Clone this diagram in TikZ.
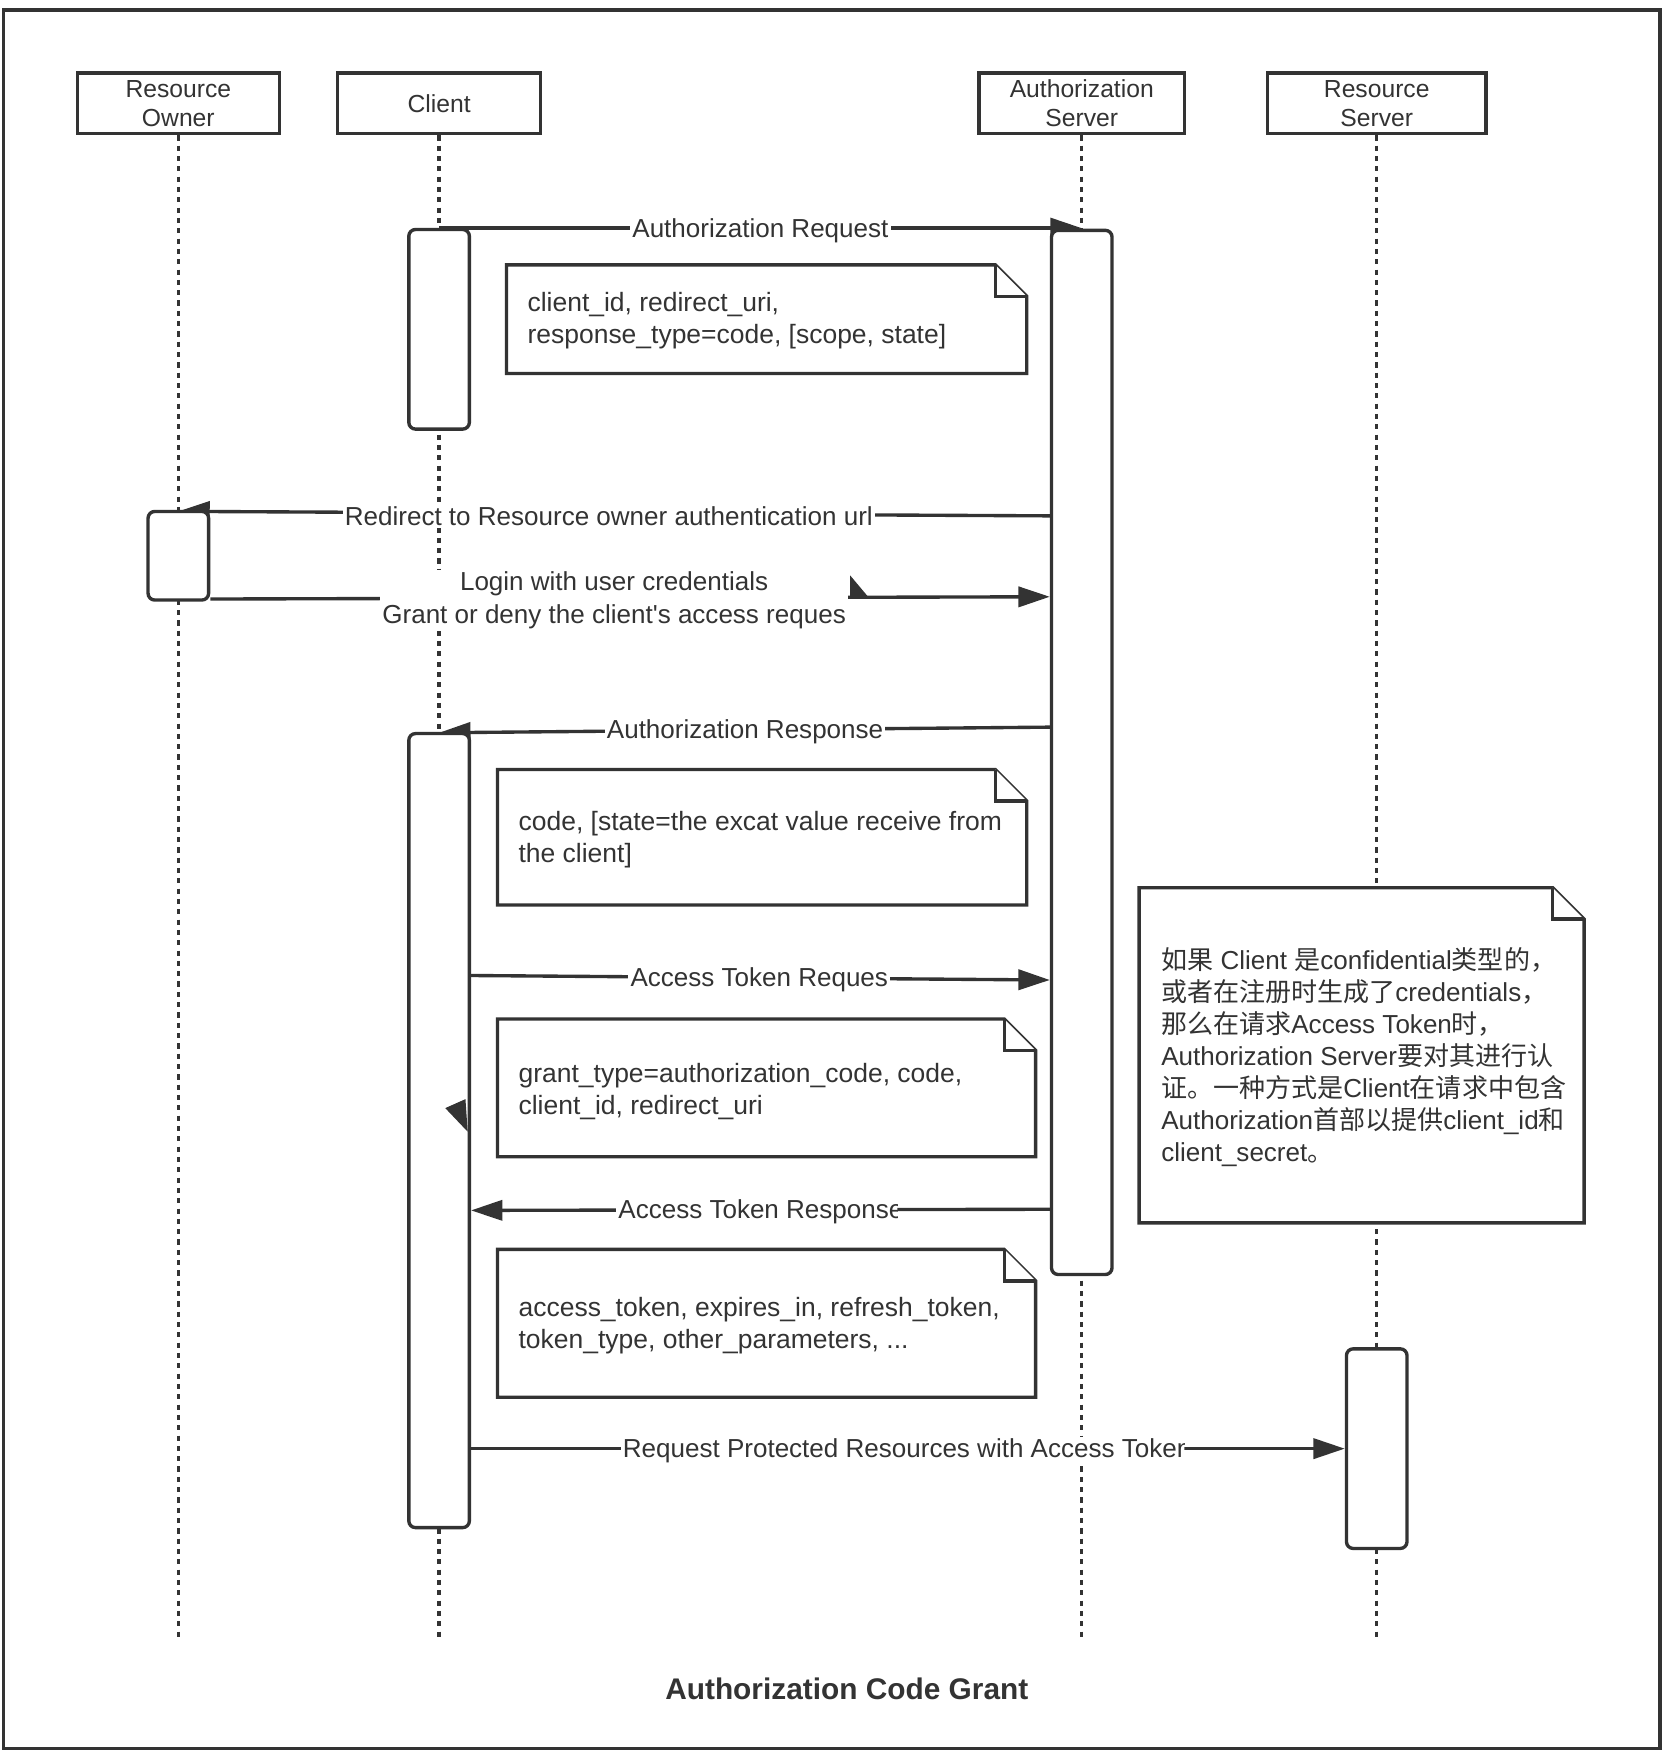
\documentclass[tikz,border=0pt]{standalone}
\usepackage{fontspec}
\setmainfont{Liberation Sans}
\newfontfamily\cjkfont{Noto Sans CJK SC}
\usetikzlibrary{arrows.meta,calc,backgrounds}
\definecolor{ink}{HTML}{333333}
\newcommand{\zhtext}[1]{{\cjkfont #1}}
\begin{document}
\begin{tikzpicture}[x=0.5pt,y=-0.501pt,
  every node/.style={text=ink},
  ln/.style={draw=ink, line width=1.5pt},
  head/.style={ln, minimum height=27pt, inner sep=0pt, align=center, font=\fontsize{11}{13}\selectfont},
  life/.style={draw=ink, line width=1.5pt, dash pattern=on 2.3pt off 2.3pt},
  actbox/.style={ln, fill=white, rounded corners=3pt, minimum width=27pt, inner sep=0pt},
  msg/.style={ln, -{Triangle[length=14pt,width=9pt]}},
  lbl/.style={fill=white, inner sep=1pt, align=center, yshift=-1pt, font=\fontsize{11.6}{14.5}\selectfont},
  notebox/.style={inner sep=0pt},
  noteline/.style={ln, fill=white, line join=miter},
  notetext/.style={anchor=west, align=left, inner sep=0pt, font=\fontsize{11.8}{14.25}\selectfont},
  zhnote/.style={anchor=west, align=left, inner sep=0pt, font=\fontsize{11.6}{14.25}\selectfont},
]
\useasboundingbox (0pt,0pt) rectangle (745pt,-785.5pt);
% frame
\draw[ink, line width=1.5pt] (3,9) rectangle (1480,1556);

% heads
\node[head, minimum width=90pt] (ro) at (159,92) {Resource\\Owner};
\node[head, minimum width=90.5pt] (cl) at (391.5,92) {Client};
\node[head, minimum width=91.5pt] (as) at (964.5,92) {Authorization\\Server};
\node[head, minimum width=97.5pt] (rs) at (1227.5,92) {Resource\\Server};

% lifeline ends
\coordinate (roend) at (159,1458);
\coordinate (clend) at (391.5,1458);
\coordinate (asend) at (964.5,1458);
\coordinate (rsend) at (1227.5,1458);

% activations
\node[actbox, minimum height=89pt] (ca1) at (391.5,293) {};
\node[actbox, minimum height=465.5pt] (asa) at (964.5,669.5) {};
\node[actbox, minimum height=39.5pt] (roa) at (159,494.5) {};
\node[actbox, minimum height=354pt] (ca2) at (391.5,1006) {};
\node[actbox, minimum height=89pt] (rsa) at (1227.5,1289) {};

% message rows
\coordinate (r1) at (0,203);
\coordinate (r2a) at (0,459); \coordinate (r2b) at (0,455);
\coordinate (r3a) at (0,533); \coordinate (r3b) at (0,531);
\coordinate (r4a) at (0,647); \coordinate (r4b) at (0,652);
\coordinate (r5a) at (0,868); \coordinate (r5b) at (0,872);
\coordinate (r6a) at (0,1076); \coordinate (r6b) at (0,1077);
\coordinate (r7) at (0,1289);

\begin{pgfonlayer}{background}
\draw[life] (ro.south) -- (roend);
\draw[life] (cl.south) -- (clend);
\draw[life] (as.south) -- (asend);
\draw[life] (rs.south) -- (rsend);

\draw[msg] (ca1.north |- r1) -- node[lbl, pos=0.5] (l1) {Authorization Request} (asa.north |- r1);
\draw[msg] (asa.west |- r2a) -- node[lbl, pos=0.506] (l2) {Redirect to Resource owner authentication url} (roa.north |- r2b);
\draw[msg] (roa.east |- r3a) -- node[lbl, pos=0.481] (l3) {Login with user credentials\\Grant or deny the client\textquotesingle s access reques} (asa.west |- r3b);
\draw[msg] (asa.west |- r4a) -- node[lbl, pos=0.499] (l4) {Authorization Response} (ca2.north |- r4b);
\draw[msg] (ca2.east |- r5a) -- node[lbl, pos=0.498] (l5) {Access Token Reques} (asa.west |- r5b);
\draw[msg] (asa.west |- r6a) -- (ca2.east |- r6b);
\begin{scope}
  \clip (540,1055) rectangle (800,1098);
  \node[lbl, anchor=west] (l6) at (549,1076.5) {Access Token Response};
\end{scope}
\draw[msg] (ca2.east |- r7) -- (rsa.west |- r7);
\begin{scope}
  \clip (540,1268) rectangle (1056,1310);
  \node[lbl, anchor=west] (l7) at (553,1289) {Request Protected Resources with Access Token};
\end{scope}
\end{pgfonlayer}

% notes
\node[notebox, minimum width=231.5pt, minimum height=48pt] (n1) at (683.5,284) {};
\draw[noteline] (n1.north west) -- ([xshift=-14pt]n1.north east) -- ([yshift=-14pt]n1.north east) -- (n1.south east) -- (n1.south west) -- cycle;
\draw[noteline] ([xshift=-14pt]n1.north east) -- ([xshift=-14pt,yshift=-14pt]n1.north east) -- ([yshift=-14pt]n1.north east);
\node[notetext] (n1t) at (470,285.5) {client\_id, redirect\_uri,\\response\_type=code, [scope, state]};

\node[notebox, minimum width=235.5pt, minimum height=60pt] (n2) at (679.5,745) {};
\draw[noteline] (n2.north west) -- ([xshift=-14pt]n2.north east) -- ([yshift=-14pt]n2.north east) -- (n2.south east) -- (n2.south west) -- cycle;
\draw[noteline] ([xshift=-14pt]n2.north east) -- ([xshift=-14pt,yshift=-14pt]n2.north east) -- ([yshift=-14pt]n2.north east);
\node[notetext] (n2t) at (462,747.5) {code, [state=the excat value receive from\\the client]};

\node[notebox, minimum width=239.5pt, minimum height=61pt] (n3) at (683.5,968) {};
\draw[noteline] (n3.north west) -- ([xshift=-14pt]n3.north east) -- ([yshift=-14pt]n3.north east) -- (n3.south east) -- (n3.south west) -- cycle;
\draw[noteline] ([xshift=-14pt]n3.north east) -- ([xshift=-14pt,yshift=-14pt]n3.north east) -- ([yshift=-14pt]n3.north east);
\node[notetext] (n3t) at (462,971) {grant\_type=authorization\_code, code,\\client\_id, redirect\_uri};

\node[notebox, minimum width=239.5pt, minimum height=65.5pt] (n4) at (683.5,1177.5) {};
\draw[noteline] (n4.north west) -- ([xshift=-14pt]n4.north east) -- ([yshift=-14pt]n4.north east) -- (n4.south east) -- (n4.south west) -- cycle;
\draw[noteline] ([xshift=-14pt]n4.north east) -- ([xshift=-14pt,yshift=-14pt]n4.north east) -- ([yshift=-14pt]n4.north east);
\node[notetext] (n4t) at (462,1179.5) {access\_token, expires\_in, refresh\_token,\\token\_type, other\_parameters, ...};

\node[notebox, minimum width=198pt, minimum height=149pt] (n5) at (1214,939) {};
\draw[noteline] (n5.north west) -- ([xshift=-14pt]n5.north east) -- ([yshift=-14pt]n5.north east) -- (n5.south east) -- (n5.south west) -- cycle;
\draw[noteline] ([xshift=-14pt]n5.north east) -- ([xshift=-14pt,yshift=-14pt]n5.north east) -- ([yshift=-14pt]n5.north east);
\node[zhnote] (n5t) at (1035,940.5) {\zhtext{如果} Client \zhtext{是}confidential\zhtext{类型的，}\\
\zhtext{或者在注册时生成了}credentials\zhtext{，}\\
\zhtext{那么在请求}Access Token\zhtext{时，}\\
Authorization Server\zhtext{要对其进行认}\\
\zhtext{证。一种方式是}Client\zhtext{在请求中包含}\\
Authorization\zhtext{首部以提供}client\_id\zhtext{和}\\
client\_secret\zhtext{。}};

% stray arrowhead fragments
\fill[ink] (397,986) -- (415,978) -- (417,1007) -- cycle;
\fill[ink] (758,512) -- (758,531) -- (774,531) -- cycle;

% title
\node[font=\bfseries\fontsize{13.3}{15}\selectfont] (title) at (755,1503) {Authorization Code Grant};
\end{tikzpicture}
\end{document}
